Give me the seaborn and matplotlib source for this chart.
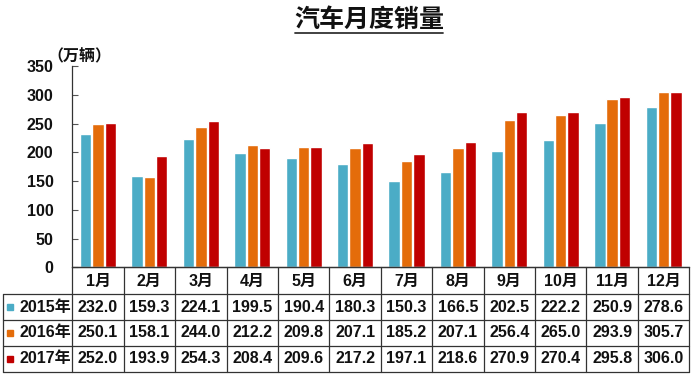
import matplotlib
matplotlib.use("Agg")
import matplotlib.pyplot as plt
from matplotlib.lines import Line2D
from matplotlib.patches import Rectangle
import seaborn as sns
import pandas as pd

months = ["1月", "2月", "3月", "4月", "5月", "6月", "7月", "8月", "9月", "10月", "11月", "12月"]
years = ["2015年", "2016年", "2017年"]
v2015 = [232.0, 159.3, 224.1, 199.5, 190.4, 180.3, 150.3, 166.5, 202.5, 222.2, 250.9, 278.6]
v2016 = [250.1, 158.1, 244.0, 212.2, 209.8, 207.1, 185.2, 207.1, 256.4, 265.0, 293.9, 305.7]
v2017 = [252.0, 193.9, 254.3, 208.4, 209.6, 217.2, 197.1, 218.6, 270.9, 270.4, 295.8, 306.0]
yticks = [0, 50, 100, 150, 200, 250, 300, 350]
colors = ["#4BACC6", "#E46C0A", "#C00000"]
title = "汽车月度销量"
unit = "（万辆）"

series = [v2015, v2016, v2017]
df = pd.DataFrame({
    "month": [m for s in series for m in months],
    "year": [y for y, s in zip(years, series) for _ in s],
    "value": [v for s in series for v in s],
})

sns.set_theme(style="white")
plt.rcParams["font.family"] = ["Liberation Sans", "Noto Sans CJK SC", "DejaVu Sans"]

W, H = 694, 375
fig = plt.figure(figsize=(W / 100, H / 100), dpi=100)
ax_l, ax_r, ax_b, ax_t = 72.3, 689.3, 267.3, 66.3
ax = fig.add_axes([ax_l / W, 1 - ax_b / H, (ax_r - ax_l) / W, (ax_b - ax_t) / H])

sns.barplot(data=df, x="month", y="value", hue="year", order=months, hue_order=years,
            palette=colors, width=0.72, gap=0.08, saturation=1, legend=False, ax=ax)

ax.set_xlim(-0.5, len(months) - 0.5)
ax.set_ylim(0, 350)
ax.set_yticks(yticks)
ax.set_yticklabels([str(t) for t in yticks], fontsize=11.5, fontweight="bold", color="#111111")
ax.set_xticks([])
ax.set_xlabel("")
ax.set_ylabel("")
ax.tick_params(axis="y", direction="in", length=4, width=0.8, color="#555555", pad=13.5, left=True)
for s in ["top", "right"]:
    ax.spines[s].set_visible(False)
for s in ["left", "bottom"]:
    ax.spines[s].set_color("#333333")
    ax.spines[s].set_linewidth(0.9)

def fx(px):
    return px / W

def fy(py):
    return 1 - py / H

def line(x0, y0, x1, y1, lw=0.9):
    fig.add_artist(Line2D([fx(x0), fx(x1)], [fy(y0), fy(y1)], color="#333333", lw=lw,
                          transform=fig.transFigure))

# table geometry (pixels)
row_y = [267.3, 294.3, 320.0, 345.7, 372.0]
left_x = 3.0
ncol = len(months)
cw = (ax_r - ax_l) / ncol
col_x = [ax_l + i * cw for i in range(ncol + 1)]

# horizontal lines
line(ax_l, row_y[0], ax_r, row_y[0])
for yy in row_y[1:]:
    line(left_x, yy, ax_r, yy)
# vertical lines
line(left_x, row_y[1], left_x, row_y[-1])
for xx in col_x:
    line(xx, row_y[0], xx, row_y[-1])

# month header
for i, m in enumerate(months):
    cx = (col_x[i] + col_x[i + 1]) / 2
    cy = (row_y[0] + row_y[1]) / 2 + 0.5
    fig.text(fx(cx), fy(cy), m, ha="center", va="center", fontsize=11.5, fontweight="bold",
             color="#111111")

# data rows
for r, (yr, s, c) in enumerate(zip(years, series, colors)):
    cy = (row_y[r + 1] + row_y[r + 2]) / 2
    fig.add_artist(Rectangle((fx(7), fy(cy + 3.2)), 6.4 / W, 6.4 / H, color=c,
                             transform=fig.transFigure))
    fig.text(fx(19), fy(cy), yr, ha="left", va="center", fontsize=11.5, fontweight="bold",
             color="#111111")
    for i, v in enumerate(s):
        cx = (col_x[i] + col_x[i + 1]) / 2
        fig.text(fx(cx), fy(cy), f"{v:.1f}", ha="center", va="center", fontsize=11.5,
                 fontweight="bold", color="#111111")

# title with underline
fig.text(fx(369), fy(20), title, ha="center", va="center", fontsize=18, fontweight="bold",
         family=["Noto Sans CJK SC"], color="#111111")
line(295, 32.5, 443, 32.5, lw=1.3)

# unit label
fig.text(fx(47), fy(56), unit, ha="left", va="center", fontsize=11.5, fontweight="bold",
         family=["Noto Sans CJK SC"], color="#111111")

fig.savefig("out.png", dpi=100, facecolor="white")
